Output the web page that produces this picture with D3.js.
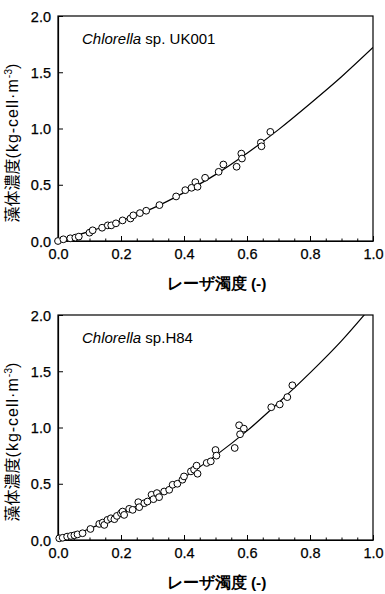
<!DOCTYPE html>
<html>
<head>
<meta charset="utf-8">
<script src="https://cdn.jsdelivr.net/npm/d3@7"></script>
<style>
  body { margin: 0; background: #fff; }
  text { font-family: "Liberation Sans", Arial, sans-serif; }
</style>
</head>
<body>
<div id="chart"></div>
<script>
// x / y ticks
const xTicks = [0, 0.2, 0.4, 0.6, 0.8, 1.0];
const xMinor = [0.05, 0.1, 0.15, 0.25, 0.3, 0.35, 0.45, 0.5, 0.55, 0.65, 0.7, 0.75, 0.85, 0.9, 0.95];
const yTicks = [0, 0.5, 1.0, 1.5, 2.0];

// Chlorella sp. UK001 - measured points [laser turbidity, cell conc.]
const ukPoints = [
  [0, 0], [0.017, 0.015], [0.039, 0.024], [0.055, 0.03], [0.066, 0.039],
  [0.10, 0.074], [0.11, 0.095], [0.14, 0.118], [0.158, 0.139], [0.169, 0.139],
  [0.184, 0.157], [0.205, 0.183], [0.23, 0.2], [0.239, 0.228], [0.26, 0.248],
  [0.28, 0.269], [0.322, 0.319], [0.375, 0.396], [0.404, 0.452], [0.424, 0.473],
  [0.436, 0.523], [0.443, 0.482], [0.467, 0.562], [0.51, 0.615], [0.525, 0.68],
  [0.567, 0.66], [0.582, 0.777], [0.584, 0.733], [0.644, 0.875], [0.646, 0.842],
  [0.674, 0.97]
];
// fitted curve
const ukCurve = [
  [0, 0], [0.1, 0.085], [0.2, 0.18], [0.3, 0.29], [0.4, 0.43], [0.5, 0.59],
  [0.6, 0.78], [0.7, 0.99], [0.8, 1.22], [0.9, 1.46], [1.0, 1.72]
];

// Chlorella sp. H84
const h84Points = [
  [0.004, 0.015], [0.015, 0.02], [0.029, 0.03], [0.041, 0.036], [0.052, 0.042],
  [0.062, 0.05], [0.078, 0.06], [0.103, 0.098], [0.131, 0.143], [0.142, 0.155],
  [0.147, 0.134], [0.157, 0.179], [0.168, 0.193], [0.179, 0.185], [0.187, 0.214],
  [0.2, 0.238], [0.205, 0.253], [0.21, 0.223], [0.226, 0.277], [0.237, 0.268],
  [0.255, 0.336], [0.258, 0.292], [0.274, 0.327], [0.284, 0.342], [0.297, 0.402],
  [0.303, 0.363], [0.314, 0.417], [0.321, 0.381], [0.337, 0.431], [0.353, 0.446],
  [0.364, 0.491], [0.379, 0.5], [0.395, 0.536], [0.4, 0.565], [0.422, 0.61],
  [0.432, 0.625], [0.44, 0.661], [0.443, 0.589], [0.472, 0.685], [0.485, 0.699],
  [0.5, 0.80], [0.503, 0.75], [0.561, 0.818], [0.575, 1.02], [0.578, 0.94],
  [0.59, 0.99], [0.677, 1.18], [0.704, 1.205], [0.728, 1.27], [0.744, 1.375]
];
const h84Curve = [
  [0, 0], [0.1, 0.10], [0.2, 0.23], [0.3, 0.38], [0.4, 0.555], [0.5, 0.75],
  [0.6, 0.97], [0.7, 1.22], [0.8, 1.485], [0.9, 1.77], [0.975, 2.01]
];

const W = 385, H = 594;
const svg = d3.select("#chart").append("svg")
  .attr("width", W).attr("height", H);

const defs = svg.append("defs");

function drawPanel(top, label, points, curve, id) {
  const left = 58, w = 315, h = 225;
  const x = d3.scaleLinear().domain([0, 1]).range([left, left + w]);
  const y = d3.scaleLinear().domain([0, 2]).range([top + h, top]);

  defs.append("clipPath").attr("id", id)
    .append("rect").attr("x", left).attr("y", top).attr("width", w).attr("height", h);

  // frame
  svg.append("rect")
    .attr("x", left).attr("y", top).attr("width", w).attr("height", h)
    .attr("fill", "none").attr("stroke", "#000").attr("stroke-width", 1.2);

  // x axis
  const gx = svg.append("g")
    .attr("transform", `translate(0,${top + h})`)
    .call(d3.axisBottom(x).tickValues(xTicks).tickFormat(d3.format(".1f")).tickSizeInner(-5).tickSizeOuter(0).tickPadding(8));
  svg.append("g")
    .attr("transform", `translate(0,${top + h})`)
    .call(d3.axisBottom(x).tickValues(xMinor).tickFormat("").tickSizeInner(-2.5).tickSizeOuter(0))
    .select(".domain").remove();

  // y axis
  const gy = svg.append("g")
    .attr("transform", `translate(${left},0)`)
    .call(d3.axisLeft(y).tickValues(yTicks).tickFormat(d3.format(".1f")).tickSizeInner(-5).tickSizeOuter(0).tickPadding(7));

  svg.selectAll(".domain").attr("stroke-width", 1.2);
  [gx, gy].forEach(g => g.selectAll("text")
    .attr("font-size", 14.5).attr("fill", "#000")
    .attr("stroke", "#000").attr("stroke-width", 0.25)
    .attr("font-family", "'Liberation Sans', Arial, sans-serif"));
  gy.selectAll("text").attr("dy", "0.36em");

  // fitted curve
  svg.append("path")
    .datum(curve)
    .attr("clip-path", `url(#${id})`)
    .attr("fill", "none").attr("stroke", "#000").attr("stroke-width", 1.2)
    .attr("d", d3.line().x(d => x(d[0])).y(d => y(d[1])).curve(d3.curveMonotoneX));

  // data points
  svg.append("g").selectAll("circle")
    .data(points).enter().append("circle")
    .attr("cx", d => x(d[0])).attr("cy", d => y(d[1]))
    .attr("r", 3.4)
    .attr("fill", "#fff").attr("stroke", "#000").attr("stroke-width", 1);

  // strain label
  const t = svg.append("text")
    .attr("x", left + 24).attr("y", top + 28)
    .attr("font-size", 15);
  t.append("tspan").attr("font-style", "italic").text("Chlorella");
  t.append("tspan").text(label);

  // axis titles
  svg.append("text")
    .attr("x", left + w / 2 + 1).attr("y", top + h + 48)
    .attr("text-anchor", "middle").attr("font-size", 15.5).attr("font-weight", "bold")
    .attr("font-family", "'Noto Sans CJK JP', sans-serif")
    .text("レーザ濁度 (-)");

  const yt = svg.append("text")
    .attr("transform", `translate(18,${top + 127}) rotate(-90)`)
    .attr("text-anchor", "middle").attr("font-size", 16);
  yt.append("tspan").attr("font-family", "'Noto Sans CJK JP', sans-serif").text("藻体濃度");
  yt.append("tspan").attr("letter-spacing", 1).text("(kg-cell·m");
  yt.append("tspan").attr("dy", -6).attr("font-size", 10.5).text("-3");
  yt.append("tspan").attr("dy", 6).text(")");
}

drawPanel(16, " sp. UK001", ukPoints, ukCurve, "clipA");
drawPanel(315, " sp.H84", h84Points, h84Curve, "clipB");
</script>
</body>
</html>
